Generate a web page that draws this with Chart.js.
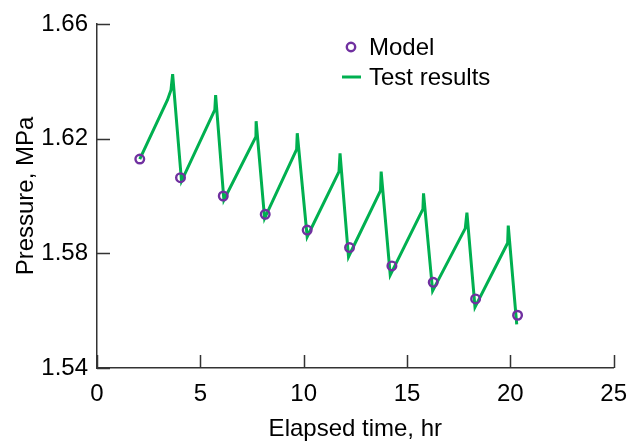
<!DOCTYPE html>
<html>
<head>
<meta charset="utf-8">
<script src="https://cdn.jsdelivr.net/npm/chart.js@4.4.1/dist/chart.umd.min.js"></script>
<style>
  html, body { margin: 0; padding: 0; background: #fff; }
  #wrap { width: 639px; height: 441px; }
</style>
</head>
<body>
<div id="wrap"><canvas id="pressureChart" width="639" height="441"></canvas></div>
<script>
// model points (hr, MPa)
const modelTime = [2.07, 4.04, 6.11, 8.14, 10.17, 12.22, 14.27, 16.27, 18.32, 20.35];
const modelPressure = [1.6129, 1.6064, 1.6000, 1.5936, 1.5881, 1.5820, 1.5756, 1.5699, 1.5641, 1.5584];

// test results: trough -> rise -> small spike -> drop
const testTime = [
    2.07, 3.41, 3.58, 3.66, 4.09,
    5.70, 5.74, 6.14,
    7.69, 7.70, 8.11,
    9.66, 9.69, 10.17,
    11.71, 11.76, 12.17,
    13.72, 13.75, 14.19,
    15.77, 15.80, 16.24,
    17.82, 17.90, 18.29,
    19.87, 19.90, 20.31
];
const testPressure = [
    1.6129, 1.6335, 1.6370, 1.6425, 1.6052,
    1.6300, 1.6352, 1.5986,
    1.6207, 1.6261, 1.5922,
    1.6163, 1.6219, 1.5858,
    1.6085, 1.6149, 1.5788,
    1.6019, 1.6085, 1.5724,
    1.5954, 1.6009, 1.5669,
    1.5887, 1.5942, 1.5612,
    1.5836, 1.5897, 1.5552
];

const xTicks = [0, 5, 10, 15, 20, 25];
const yTicks = [1.54, 1.58, 1.62, 1.66];

const GREEN = '#00b050';
const PURPLE = '#7030a0';
const AXIS = '#333333';
const FONT = '"Liberation Sans", Arial, sans-serif';

// inward tick marks, like the original plot
const innerTicks = {
    id: 'innerTicks',
    afterDraw(chart) {
        const { ctx, chartArea, scales } = chart;
        ctx.save();
        ctx.strokeStyle = AXIS;
        ctx.lineWidth = 1.5;
        ctx.beginPath();
        yTicks.forEach(v => {
            const y = Math.round(scales.y.getPixelForValue(v)) + 0.5;
            ctx.moveTo(chartArea.left, y);
            ctx.lineTo(chartArea.left + 13, y);
        });
        xTicks.forEach(v => {
            const x = Math.round(scales.x.getPixelForValue(v)) + 0.5;
            ctx.moveTo(x, chartArea.bottom);
            ctx.lineTo(x, chartArea.bottom - 13);
        });
        ctx.stroke();
        ctx.restore();
    }
};

// legend inside the plot area
const innerLegend = {
    id: 'innerLegend',
    afterDraw(chart) {
        const { ctx } = chart;
        ctx.save();
        ctx.font = '24px ' + FONT;
        ctx.fillStyle = '#000';
        ctx.textBaseline = 'middle';

        ctx.strokeStyle = PURPLE;
        ctx.lineWidth = 2.4;
        ctx.beginPath();
        ctx.arc(351, 47, 4.2, 0, Math.PI * 2);
        ctx.stroke();
        ctx.fillText(chart.data.datasets[0].label, 369, 48);

        ctx.strokeStyle = GREEN;
        ctx.lineWidth = 3;
        ctx.beginPath();
        ctx.moveTo(342, 77);
        ctx.lineTo(361, 77);
        ctx.stroke();
        ctx.fillText(chart.data.datasets[1].label, 369, 78);
        ctx.restore();
    }
};

const ctx = document.getElementById('pressureChart').getContext('2d');
new Chart(ctx, {
    type: 'scatter',
    data: {
        datasets: [
            {
                label: 'Model',
                data: modelTime.map((t, i) => ({ x: t, y: modelPressure[i] })),
                showLine: false,
                pointStyle: 'circle',
                pointRadius: 4.3,
                pointBorderWidth: 2.4,
                pointBorderColor: PURPLE,
                pointBackgroundColor: 'rgba(0,0,0,0)',
                order: 0
            },
            {
                label: 'Test results',
                data: testTime.map((t, i) => ({ x: t, y: testPressure[i] })),
                showLine: true,
                borderColor: GREEN,
                borderWidth: 3,
                pointRadius: 0,
                tension: 0,
                order: 1
            }
        ]
    },
    options: {
        responsive: false,
        animation: false,
        layout: { padding: { top: 24, right: 14, left: 0, bottom: 0 } },
        plugins: {
            legend: { display: false },
            tooltip: { enabled: false }
        },
        scales: {
            x: {
                type: 'linear',
                min: 0,
                max: 25,
                afterFit: (scale) => { scale.height = 73; },
                afterBuildTicks: (scale) => { scale.ticks = xTicks.map(v => ({ value: v })); },
                grid: { display: true, drawOnChartArea: false, drawTicks: false },
                border: { display: true, color: AXIS, width: 1.5 },
                ticks: {
                    color: '#000',
                    padding: 12,
                    font: { family: FONT, size: 24 }
                },
                title: {
                    display: true,
                    text: 'Elapsed time, hr',
                    color: '#000',
                    font: { family: FONT, size: 24, lineHeight: 1 },
                    padding: 0
                }
            },
            y: {
                type: 'linear',
                min: 1.54,
                max: 1.66,
                afterFit: (scale) => { scale.width = 97; },
                afterBuildTicks: (scale) => { scale.ticks = yTicks.map(v => ({ value: v })); },
                grid: { display: true, drawOnChartArea: false, drawTicks: false },
                border: { display: true, color: AXIS, width: 1.5 },
                ticks: {
                    color: '#000',
                    padding: 9,
                    font: { family: FONT, size: 24 },
                    callback: (v) => v.toFixed(2)
                },
                title: {
                    display: true,
                    text: 'Pressure, MPa',
                    color: '#000',
                    font: { family: FONT, size: 24, lineHeight: 1 },
                    padding: { top: 14, bottom: 0 }
                }
            }
        }
    },
    plugins: [innerTicks, innerLegend]
});
</script>
</body>
</html>
